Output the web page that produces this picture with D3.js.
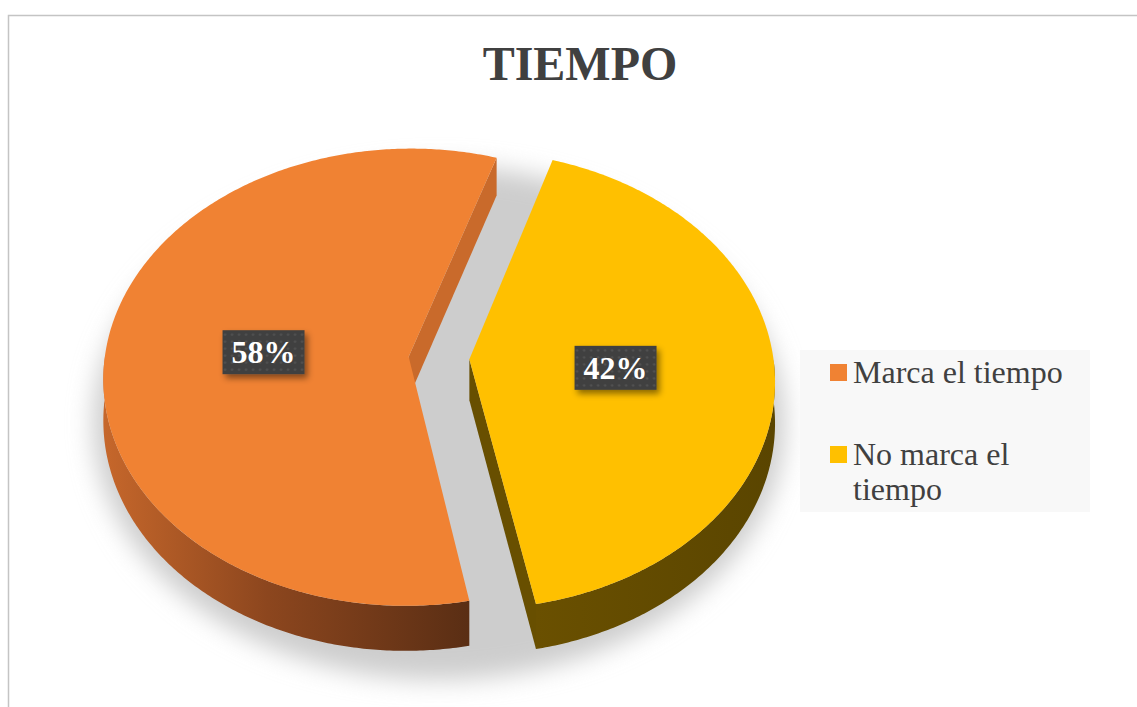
<!DOCTYPE html>
<html>
<head>
<meta charset="utf-8">
<script src="https://cdnjs.cloudflare.com/ajax/libs/d3/7.8.5/d3.min.js"></script>
<style>
body { margin: 0; background: #fff; }
</style>
</head>
<body>
<div id="chart"></div>
<script>
var categories = ["Marca el tiempo", "No marca el tiempo"];
var values = [58, 42];
var chartTitle = "TIEMPO";

var width = 1137, height = 707;
var serif = "'Liberation Serif', 'Times New Roman', Times, serif";

var topColor = d3.scaleOrdinal().domain(categories).range(["#f08233", "#ffc000"]);
var edgeColor = d3.scaleOrdinal().domain(categories).range(["#c96a2b", "#684f00"]);

var svg = d3.select("#chart")
    .append("svg")
    .attr("width", width)
    .attr("height", height);

var defs = svg.append("defs");

defs.append("filter").attr("id", "soft")
    .attr("x", "-20%").attr("y", "-20%").attr("width", "140%").attr("height", "140%")
    .append("feGaussianBlur").attr("stdDeviation", 12);

var drop = defs.append("filter").attr("id", "drop")
    .attr("x", "-20%").attr("y", "-20%").attr("width", "150%").attr("height", "160%");
drop.append("feDropShadow")
    .attr("dx", 3).attr("dy", 4).attr("stdDeviation", 3)
    .attr("flood-color", "#000").attr("flood-opacity", 0.45);

var dots = defs.append("pattern").attr("id", "dots")
    .attr("patternUnits", "userSpaceOnUse").attr("width", 7).attr("height", 7);
dots.append("rect").attr("width", 7).attr("height", 7).attr("fill", "#3f3f3f");
dots.append("circle").attr("cx", 3.5).attr("cy", 3.5).attr("r", 1.2).attr("fill", "#555");

// side wall gradients
var g1 = defs.append("linearGradient").attr("id", "wall0");
g1.append("stop").attr("offset", "0%").attr("stop-color", "#c6672b");
g1.append("stop").attr("offset", "45%").attr("stop-color", "#8c461e");
g1.append("stop").attr("offset", "100%").attr("stop-color", "#5a2e14");
var g2 = defs.append("linearGradient").attr("id", "wall1");
g2.append("stop").attr("offset", "0%").attr("stop-color", "#6a5000");
g2.append("stop").attr("offset", "100%").attr("stop-color", "#5a4500");

// chart border
svg.append("rect")
    .attr("x", 8.5).attr("y", 15.5)
    .attr("width", 1150).attr("height", 720)
    .attr("fill", "none")
    .attr("stroke", "#c4c4c4")
    .attr("stroke-width", 1.5);

svg.append("text")
    .attr("x", 580).attr("y", 80)
    .attr("text-anchor", "middle")
    .attr("font-family", serif)
    .attr("font-size", 48)
    .attr("font-weight", "bold")
    .attr("fill", "#404040")
    .text(chartTitle);

// perspective projection of the tilted pie
var cx = 439, cy = 358, A = 304, B = 227, k = 0.09, depth = 41, explode = 0.1;

function project(u, v, z) {
    var w = 1 - k * v;
    return [cx + A * u / w, cy + (B * v + z) / w];
}

function pt(d, r, a, z) {
    var m = (d.startAngle + d.endAngle) / 2;
    var u = explode * Math.sin(m) + r * Math.sin(a);
    var v = -explode * Math.cos(m) - r * Math.cos(a);
    return project(u, v, z);
}

function angles(a0, a1) {
    var n = Math.max(2, Math.ceil((a1 - a0) / 0.01));
    return d3.range(n + 1).map(function (i) { return a0 + (a1 - a0) * i / n; });
}

var line = d3.line().curve(d3.curveLinearClosed);

var start = 169 * Math.PI / 180;
var pie = d3.pie().sort(null).startAngle(start).endAngle(start + 2 * Math.PI);
var arcs = pie(values);
arcs.forEach(function (d, i) { d.name = categories[i]; d.idx = i; });

// soft shadow under the pie
svg.append("ellipse")
    .attr("cx", cx).attr("cy", cy + 65)
    .attr("rx", A + 42).attr("ry", B + 30)
    .attr("fill", "#cdcdcd")
    .attr("filter", "url(#soft)");

var slices = svg.selectAll("g.slice")
    .data(arcs)
    .enter().append("g")
    .attr("class", "slice");

slices.each(function (d) {
    var g = d3.select(this);

    // radial walls that face the viewer
    if (Math.sin(d.startAngle) < 0) {
        g.append("path")
            .attr("d", line([pt(d, 0, d.startAngle, 0), pt(d, 1, d.startAngle, 0),
                pt(d, 1, d.startAngle, depth), pt(d, 0, d.startAngle, depth)]))
            .attr("fill", edgeColor(d.name));
    }
    if (Math.sin(d.endAngle) > 0) {
        g.append("path")
            .attr("d", line([pt(d, 0, d.endAngle, 0), pt(d, 1, d.endAngle, 0),
                pt(d, 1, d.endAngle, depth), pt(d, 0, d.endAngle, depth)]))
            .attr("fill", edgeColor(d.name));
    }

    // outer curved wall, front half only
    [-2 * Math.PI, 0, 2 * Math.PI].forEach(function (t) {
        var lo = Math.max(d.startAngle, Math.PI / 2 + t);
        var hi = Math.min(d.endAngle, 3 * Math.PI / 2 + t);
        if (hi <= lo) return;
        var a = angles(lo, hi);
        var pts = a.map(function (x) { return pt(d, 1, x, 0); })
            .concat(a.slice().reverse().map(function (x) { return pt(d, 1, x, depth); }));
        g.append("path")
            .attr("d", line(pts))
            .attr("fill", "url(#wall" + d.idx + ")");
    });

    // top face
    var top = [pt(d, 0, 0, 0)].concat(angles(d.startAngle, d.endAngle).map(function (x) {
        return pt(d, 1, x, 0);
    }));
    g.append("path")
        .attr("d", line(top))
        .attr("fill", topColor(d.name));
});

// data labels
var labels = svg.selectAll("g.label")
    .data(arcs)
    .enter().append("g")
    .attr("class", "label")
    .attr("transform", function (d) {
        var p = pt(d, 0.48, (d.startAngle + d.endAngle) / 2, 0);
        return "translate(" + p[0] + "," + (p[1] + 2) + ")";
    });

labels.append("rect")
    .attr("x", -41).attr("y", -22)
    .attr("width", 82).attr("height", 44)
    .attr("fill", "url(#dots)")
    .attr("filter", "url(#drop)");

labels.append("text")
    .attr("text-anchor", "middle")
    .attr("y", 11)
    .attr("font-family", serif)
    .attr("font-size", 32)
    .attr("font-weight", "bold")
    .attr("fill", "#fff")
    .text(function (d) {
        return Math.round(d.value / d3.sum(values) * 100) + "%";
    });

// legend
var legend = svg.append("g").attr("transform", "translate(800,350)");
legend.append("rect")
    .attr("width", 290).attr("height", 162)
    .attr("fill", "#f8f8f8");

var lineSets = [["Marca el tiempo"], ["No marca el", "tiempo"]];
var legendY = d3.scalePoint().domain(categories).range([14, 96]);

var items = legend.selectAll("g.item")
    .data(categories)
    .enter().append("g")
    .attr("class", "item")
    .attr("transform", function (d) { return "translate(30," + legendY(d) + ")"; });

items.append("rect")
    .attr("width", 17).attr("height", 17)
    .attr("fill", function (d) { return topColor(d); });

items.append("text")
    .attr("x", 23)
    .attr("font-family", serif)
    .attr("font-size", 32)
    .attr("fill", "#404040")
    .selectAll("tspan")
    .data(function (d, i) { return lineSets[i]; })
    .enter().append("tspan")
    .attr("x", 23)
    .attr("y", function (d, j) { return 19 + j * 35; })
    .text(function (d) { return d; });
</script>
</body>
</html>
